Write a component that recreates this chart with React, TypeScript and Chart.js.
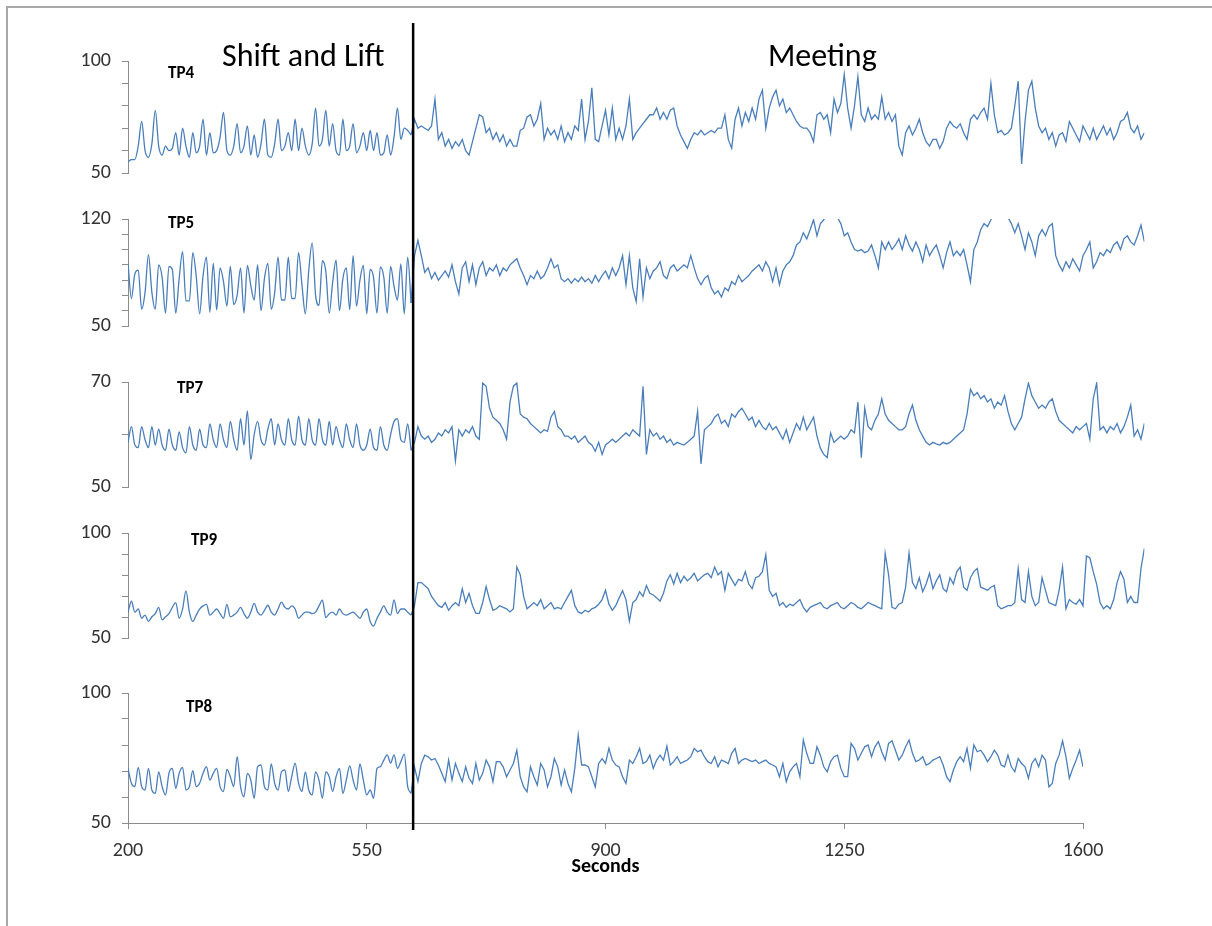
import React, { useEffect, useRef } from "react";
import { Chart, registerables } from "chart.js";

Chart.register(...registerables);

// ---------------- data ----------------
const T_START = 200; // seconds of the first sample
const T_STEP = 5; // seconds between samples
const DIVIDER_SECONDS = 618;
const X_MIN = 200;
const X_MAX_AXIS = 1600;
const X_TICK_STEP = 350;
const X_TITLE = "Seconds";
const PHASE_LABELS = ["Shift and Lift", "Meeting"];
const SERIES_NAMES = ["TP4", "TP5", "TP7", "TP9", "TP8"];
const Y_MINS = [50, 50, 50, 50, 50];
const Y_MAXS = [100, 120, 70, 100, 100];
const Y_TICK_STEP = 10;

// TP4 (200 .. 615 s) and (620 .. 1690 s)
const TP4_SHIFT = [
  55, 56, 56, 62, 73, 60, 57, 63, 78, 62,
  58, 62, 60, 61, 68, 58, 70, 62, 57, 68,
  59, 62, 74, 58, 68, 59, 60, 66, 77, 60,
  58, 62, 72, 59, 62, 71, 58, 67, 57, 63,
  74, 58, 57, 63, 74, 60, 62, 68, 60, 74,
  60, 70, 62, 58, 63, 79, 62, 65, 78, 62,
  72, 60, 58, 74, 60, 62, 72, 59, 62, 68,
  60, 69, 60, 68, 58, 59, 67, 58, 66, 79,
  65, 70, 69, 67,
];
const TP4_MEETING = [
  74, 70, 71, 70, 69, 71, 83, 65, 68, 62,
  65, 61, 64, 62, 65, 60, 58, 64, 70, 76,
  75, 68, 70, 65, 68, 64, 67, 62, 65, 62,
  62, 69, 70, 75, 76, 71, 74, 81, 65, 70,
  67, 69, 65, 71, 64, 68, 65, 71, 69, 83,
  65, 73, 88, 65, 64, 71, 78, 67, 79, 65,
  70, 65, 71, 83, 65, 68, 70, 72, 74, 76,
  76, 79, 74, 77, 74, 78, 79, 71, 67, 64,
  61, 65, 68, 67, 69, 67, 68, 69, 68, 70,
  70, 76, 65, 61, 74, 79, 71, 77, 73, 79,
  74, 83, 87, 70, 79, 84, 87, 80, 83, 77,
  79, 76, 73, 71, 70, 70, 68, 64, 76, 77,
  74, 76, 68, 83, 77, 81, 94, 79, 70, 80,
  93, 76, 73, 79, 74, 76, 74, 84, 74, 77,
  73, 76, 62, 58, 68, 71, 67, 70, 74, 68,
  64, 62, 65, 65, 61, 64, 70, 73, 71, 70,
  72, 68, 65, 74, 76, 74, 77, 79, 74, 90,
  76, 68, 69, 67, 68, 70, 80, 91, 54, 73,
  87, 91, 79, 71, 68, 70, 65, 68, 62, 67,
  68, 64, 73, 70, 67, 64, 71, 68, 65, 70,
  65, 68, 71, 67, 70, 65, 68, 73, 74, 77,
  70, 68, 71, 65, 68,
];

// TP5
const TP5_SHIFT = [
  91, 68, 84, 86.5, 61, 72, 96.7, 72, 61, 90,
  82, 58.4, 89, 87, 58.4, 81, 98.7, 66.4, 66.4, 98,
  82.7, 58, 82.7, 95, 59, 91, 60.5, 88, 79, 63,
  89, 64, 70, 88, 58.5, 89.6, 76.5, 67, 90, 60,
  81, 91, 61, 71.7, 95, 67, 67, 95, 68, 68,
  98, 77, 58, 86.5, 104.4, 70, 63.5, 92.7, 85.7, 58.4,
  78.5, 93, 60, 81, 88, 60.7, 96, 63, 80, 89.6,
  58, 87, 81.7, 58.4, 88.7, 82, 58.4, 89, 76, 67,
  90.6, 58, 95, 65,
];
const TP5_MEETING = [
  96, 106, 96, 85, 88, 81, 85, 80, 83, 86,
  82, 90, 79, 71, 88, 92, 79, 90, 77, 88,
  92, 83, 88, 86, 90, 83, 88, 86, 90, 92,
  94, 88, 83, 77, 83, 81, 86, 81, 83, 88,
  94, 88, 90, 81, 79, 81, 78, 81, 79, 82,
  79, 81, 78, 83, 79, 83, 86, 81, 88, 83,
  88, 96, 77, 96, 75, 66, 94, 69, 88, 81,
  86, 88, 92, 83, 81, 88, 90, 86, 88, 90,
  88, 96, 88, 81, 77, 81, 83, 75, 71, 73,
  69, 75, 73, 79, 77, 83, 79, 81, 83, 86,
  88, 90, 86, 92, 88, 79, 88, 77, 86, 90,
  92, 96, 103, 105, 111, 107, 113, 119.5, 109, 117,
  119.5, 124, 126, 124, 121, 117, 109, 111, 105, 100,
  99, 100, 98, 99, 103, 96, 88, 105, 100, 105,
  100, 103, 107, 100, 109, 103, 99, 105, 100, 92,
  103, 96, 100, 103, 96, 88, 98, 105, 96, 99,
  96, 100, 90, 79, 100, 105, 113, 117, 115, 119.5,
  124, 125, 122, 124, 121, 117, 111, 117, 109, 100,
  111, 105, 96, 109, 113, 109, 115, 117, 96, 90,
  86, 92, 88, 94, 90, 86, 96, 100, 105, 88,
  92, 98, 96, 100, 98, 103, 105, 100, 107, 109,
  105, 103, 109, 116, 105,
];

// TP7
const TP7_SHIFT = [
  58.5, 61.5, 58, 57.5, 61.5, 59, 57.5, 61.5, 58, 61,
  58, 57, 61, 58, 57, 60.5, 57.5, 56.5, 61.5, 58,
  57, 61, 58, 57.5, 62, 59, 57.5, 62, 59, 57.5,
  62.5, 59, 57, 63, 58, 64.5, 55.2, 60, 62.5, 59,
  58, 61, 63, 58, 62, 59, 58, 63, 59, 58,
  63.5, 59, 58, 63, 59, 58, 63, 59, 58, 62.5,
  58, 61.5, 59, 57.5, 62, 59, 57.5, 62, 58, 57,
  58, 61, 57.5, 57, 61.5, 58, 57, 60, 62.5, 63,
  59, 58.5, 62, 57,
];
const TP7_MEETING = [
  58.5, 61.5, 59.7, 59.1, 59.7, 58.5, 59.1, 60.3, 59.7, 60.9,
  60.3, 61.5, 55, 60.9, 59.7, 60.9, 60.3, 61.5, 59.7, 59.1,
  69.8, 69.2, 65, 63.3, 62.7, 62.1, 60.9, 59.1, 66.2, 69.2,
  69.8, 63.9, 63.3, 63, 62.1, 61.5, 60.9, 60.3, 60.9, 60.6,
  63.3, 64.4, 61.5, 60.9, 59.7, 59.7, 59.1, 59.7, 58.5, 59.1,
  59.7, 58.5, 58, 56.8, 58.5, 56.2, 58, 58.5, 59.1, 58.5,
  59.1, 59.7, 60.3, 59.7, 60.9, 60.3, 59.7, 69.2, 56.2, 60.9,
  59.7, 60.3, 59.1, 59.7, 58.5, 59.1, 58, 58.5, 58.2, 58,
  58.5, 59.1, 59.7, 64.4, 54.4, 60.9, 61.5, 62.1, 63.3, 63.9,
  62.1, 62.7, 61.5, 63.9, 63.3, 64.4, 65, 63.9, 62.7, 63.3,
  61.5, 62.7, 61.5, 60.9, 62.1, 60.9, 61.5, 60.3, 59.1, 60.9,
  58.5, 60.3, 62.1, 60.9, 63.3, 60.9, 62.1, 63.3, 59.7, 57.4,
  56.2, 55.6, 60.3, 58.5, 59.1, 59.7, 59.1, 59.7, 60.9, 60.3,
  66.2, 55.6, 65, 61.5, 60.9, 62.7, 63.9, 66.8, 63.9, 62.7,
  62.1, 61.5, 60.9, 60.9, 61.5, 63.9, 65.6, 62.7, 60.9, 59.7,
  58.5, 58, 58.5, 58.2, 58, 58.5, 58.2, 58.5, 59.1, 59.7,
  60.3, 60.9, 63.9, 68.6, 67.4, 68, 66.8, 67.4, 66.2, 66.8,
  65, 66.2, 65.6, 67.4, 64.4, 62.1, 60.9, 62.1, 63.3, 66.8,
  69.8, 67.4, 66.2, 65, 65.6, 65, 66.2, 66.8, 64.4, 62.7,
  62.1, 61.5, 60.9, 60.3, 61.5, 60.9, 61.5, 62.1, 59.1, 66.8,
  69.8, 60.9, 61.5, 60.3, 61.5, 60.9, 62.1, 60.3, 61.5, 63.3,
  65.6, 59.7, 60.9, 59.1, 62.1,
];

// TP9
const TP9_SHIFT = [
  62.3, 67.5, 62.3, 63.8, 59.4, 60.9, 57.9, 60.1, 61.6, 64.6,
  58.7, 60.1, 61.6, 64.6, 66.8, 59.4, 63.8, 72.4, 62.3, 57.9,
  60.9, 63.8, 65.3, 66, 60.9, 62.3, 63.8, 61.6, 59.4, 66,
  60.1, 60.9, 62.3, 64.6, 61.6, 59.4, 62.3, 66.5, 62.3, 60.9,
  63.1, 65.6, 62.3, 60.9, 63.8, 67.1, 64.6, 63.8, 65.3, 63.8,
  59.4, 60.9, 62.3, 62.3, 61.6, 62.3, 65.3, 68, 59.7, 61.6,
  62.3, 60.9, 63.8, 61.6, 60.9, 61.6, 62.3, 60.9, 59.4, 62.3,
  63.8, 57.9, 55.7, 59.4, 62.3, 65.3, 62.3, 60.9, 68.2, 61.6,
  63.8, 63.8, 62.3, 60.9,
];
const TP9_MEETING = [
  65.4, 76.4, 76.4, 75, 73.5, 69.8, 67.6, 65.4, 64.6, 66.9,
  63.2, 65.4, 66.9, 65.4, 73.5, 66.9, 71.3, 65.4, 61.7, 61.7,
  66.9, 74.5, 68.3, 63.2, 63.9, 65.4, 64.6, 63.9, 62.4, 63.9,
  83.8, 80.1, 69.8, 63.9, 65.4, 66.9, 65.4, 68.3, 63.9, 65.4,
  66.9, 63.9, 64.6, 63.9, 66.9, 69.8, 72.7, 65.4, 62.4, 61.7,
  63.2, 62.4, 63.9, 64.6, 66.1, 68.3, 72.7, 66.1, 63.2, 65.4,
  69.1, 72.5, 68.3, 58, 66.9, 68.3, 72, 69.8, 75, 71.3,
  70.5, 69.1, 67.6, 71.3, 77.2, 80.1, 75.7, 80.8, 76.4, 79.4,
  77.2, 78.7, 80.8, 77.2, 78.7, 80.1, 80.8, 78.7, 83.8, 80.1,
  81.6, 72.7, 80.8, 77.9, 75, 77.9, 77.2, 81.6, 75.7, 73.5,
  78.7, 79.4, 81.6, 89.7, 72.7, 69.8, 71.3, 65.4, 66.9, 64.6,
  66.1, 65.4, 66.9, 68.3, 64.6, 62.4, 64.6, 65.4, 66.1, 66.9,
  64.6, 63.9, 65.4, 66.1, 66.9, 64.6, 63.9, 65.4, 66.9, 66.1,
  64.6, 63.9, 65.4, 66.9, 66.1, 65.4, 64.6, 63.9, 90.4, 80.1,
  64.6, 63.9, 66.1, 66.9, 74.2, 90.4, 76.4, 73.5, 78.7, 72,
  75.7, 80.8, 73.5, 77.2, 80.1, 73.5, 72, 78.7, 75.7, 81.6,
  83.8, 74.2, 72.7, 78.7, 81.6, 83.1, 74.2, 73.5, 72.7, 74.2,
  75, 65.4, 63.9, 64.6, 65.4, 65.4, 66.9, 83.1, 68.3, 66.9,
  81.6, 69.8, 65.4, 66.9, 78.7, 72.7, 66.9, 66.1, 65.4, 72.7,
  83.8, 63.9, 68.3, 66.9, 66.1, 68.3, 65.4, 89, 88.2, 81.6,
  75.7, 66.9, 63.9, 65.4, 63.9, 68.3, 76.4, 81.6, 78, 66.9,
  69.8, 66.9, 66.9, 83.1, 92.7,
];

// TP8 (ends at 1600 s)
const TP8_SHIFT = [
  71, 65.3, 64, 71.4, 64, 62.7, 71, 62.7, 61.4, 69.7,
  64, 60.8, 69.1, 71, 63.3, 69.1, 71.4, 62.7, 64, 70.1,
  64, 65.3, 69.1, 71.7, 66.5, 69.1, 71, 64, 62.1, 70.6,
  67.8, 64, 75.5, 64, 60.1, 69.1, 66.5, 59.5, 71.7, 72.3,
  64, 62.7, 72.7, 65.3, 62.7, 69.7, 70.4, 62.1, 67.8, 73,
  65.3, 62.1, 69.7, 62.7, 60.8, 69.7, 66.5, 59.5, 69.7, 67.8,
  62.1, 67.8, 71, 61.4, 66.5, 72, 66.5, 62.7, 72.7, 66.5,
  60.8, 62.7, 59.5, 71, 71.7, 74.2, 76.2, 73, 76.2, 71,
  73.6, 76.5, 64, 61.4,
];
const TP8_MEETING = [
  71.6, 65.9, 72.9, 76.1, 75.5, 74.2, 74.8, 72.3, 69.1, 65.9,
  74.2, 66.5, 72.9, 69.1, 65.9, 71.6, 67.2, 65.2, 72.9, 66.5,
  69.1, 74.2, 71.6, 65.9, 73.6, 73.6, 71.6, 67.8, 70.4, 72.9,
  78, 67.8, 63.9, 62, 71.6, 67.8, 64.6, 72.9, 70.4, 63.9,
  67.8, 74.8, 71.6, 64.6, 70.4, 65.2, 62, 71, 83.8, 72.3,
  72.3, 71.6, 67.8, 63.9, 72.9, 74.8, 72.9, 78.7, 74.2, 72.3,
  71.6, 67.8, 65.2, 74.2, 72.9, 75.5, 78.7, 72.9, 73.6, 76.1,
  71, 74.2, 76.1, 74.2, 79.6, 72.3, 73.6, 75.5, 72.9, 73.6,
  74.2, 75.5, 78.7, 77.4, 78, 75.5, 73.6, 72.9, 75.5, 71.6,
  74.2, 73.6, 72.9, 76.8, 78.7, 72.9, 74.2, 74.8, 74.2, 73.6,
  74.2, 72.9, 73.6, 74.2, 72.9, 72.3, 71.6, 67.8, 72.9, 65.9,
  69.7, 71.6, 72.9, 67.8, 81.9, 76.8, 72.9, 72.9, 79.3, 76.1,
  71.6, 69.7, 73.6, 75.5, 76.1, 71, 67.8, 67.8, 80.6, 78.7,
  74.2, 76.8, 79.3, 80, 75.5, 79.3, 81.3, 77.4, 74.2, 80.6,
  81.6, 78, 74.2, 76.1, 79.3, 81.9, 76.8, 73.6, 74.2, 75.5,
  72.3, 72.9, 74.2, 74.8, 75.5, 72.3, 67.8, 65.9, 70.4, 73.6,
  75.5, 73.6, 78.7, 71, 80, 77.4, 78, 76.1, 73.6, 75.5,
  78, 76.1, 72.3, 71.6, 76.1, 71.6, 69.7, 74.8, 72.9, 71.6,
  67.2, 72.9, 74.8, 71.6, 76.1, 74.2, 63.9, 65.2, 72.9, 76.1,
  81.6, 75.5, 67.2, 71, 74.2, 78, 71.6,
];

const SERIES_SHIFT = [TP4_SHIFT, TP5_SHIFT, TP7_SHIFT, TP9_SHIFT, TP8_SHIFT];
const SERIES_MEETING = [TP4_MEETING, TP5_MEETING, TP7_MEETING, TP9_MEETING, TP8_MEETING];

// ---------------- layout / style ----------------
const PAGE_W = 1212;
const PAGE_H = 926;
const AREA_LEFT = 128;
const AREA_RIGHT_AT_AXIS_MAX = 1083;
const PX_PER_SEC = (AREA_RIGHT_AT_AXIS_MAX - AREA_LEFT) / (X_MAX_AXIS - X_MIN);
const X_AXIS_HEIGHT = 56;
const DIVIDER_TOP = 23;
const DIVIDER_BOTTOM = 830;
const LINE_COLOR = "#4a7ebb";
const AXIS_COLOR = "#8c8c8c";
const TICK_COLOR = "#333333";
const FONT = "Carlito, Lato, 'Open Sans', sans-serif";

type Box = { top: number; bottom: number; areaTop: number; areaBottom: number; labelLeft: number; labelTop: number };
const BOXES: Box[] = [
  { top: 18, bottom: 196, areaTop: 61, areaBottom: 175, labelLeft: 168, labelTop: 64 },
  { top: 196, bottom: 354, areaTop: 216, areaBottom: 326, labelLeft: 168, labelTop: 214 },
  { top: 354, bottom: 510, areaTop: 382, areaBottom: 495, labelLeft: 177, labelTop: 379 },
  { top: 510, bottom: 665, areaTop: 525, areaBottom: 638, labelLeft: 191, labelTop: 531 },
  { top: 665, bottom: 880, areaTop: 693, areaBottom: 823, labelLeft: 186, labelTop: 698 },
];

function Panel({ index }: { index: number }) {
  const ref = useRef<HTMLCanvasElement | null>(null);
  const box = BOXES[index];
  const height = box.bottom - box.top;
  const showX = index === BOXES.length - 1;

  useEffect(() => {
    const canvas = ref.current;
    if (!canvas) return;
    const shift = SERIES_SHIFT[index];
    const meeting = SERIES_MEETING[index];
    const values = [...shift, ...meeting];
    const points = values.map((v, i) => ({ x: T_START + i * T_STEP, y: v }));
    const shiftPoints = points.slice(0, shift.length);
    const meetingPoints = points.slice(shift.length - 1);
    const yMin = Y_MINS[index];
    const yMax = Y_MAXS[index];
    const xMax = showX ? X_MAX_AXIS : points[points.length - 1].x;
    const areaRight = AREA_LEFT + (xMax - X_MIN) * PX_PER_SEC;
    const padBottom = showX
      ? box.bottom - box.areaBottom - X_AXIS_HEIGHT
      : box.bottom - box.areaBottom;

    const divider = {
      id: "divider",
      afterDatasetsDraw(chart: any) {
        const x = chart.scales.x.getPixelForValue(DIVIDER_SECONDS);
        const y0 = Math.max(0, DIVIDER_TOP - box.top);
        const y1 = Math.min(height, DIVIDER_BOTTOM - box.top);
        const ctx = chart.ctx;
        ctx.save();
        ctx.strokeStyle = "#000000";
        ctx.lineWidth = 2.5;
        ctx.beginPath();
        ctx.moveTo(x, y0);
        ctx.lineTo(x, y1);
        ctx.stroke();
        ctx.restore();
      },
    };

    const xScale: any = {
      type: "linear",
      display: showX,
      min: X_MIN,
      max: xMax,
      border: { display: true, color: AXIS_COLOR, width: 1 },
      grid: { drawOnChartArea: false, drawTicks: true, tickLength: 6, color: AXIS_COLOR },
      ticks: {
        stepSize: X_TICK_STEP,
        autoSkip: false,
        maxRotation: 0,
        padding: 10,
        color: TICK_COLOR,
        font: { family: FONT, size: 20 },
        callback: (v: any) => String(v),
      },
      title: {
        display: true,
        text: X_TITLE,
        color: "#000000",
        padding: 0,
        font: { family: FONT, size: 20, weight: "bold" },
      },
    };
    if (showX) {
      xScale.afterFit = (s: any) => {
        s.height = X_AXIS_HEIGHT;
      };
    }

    const chart = new Chart(canvas, {
      type: "line",
      data: {
        datasets: [
          {
            label: SERIES_NAMES[index] + " " + PHASE_LABELS[0],
            data: shiftPoints,
            borderColor: LINE_COLOR,
            borderWidth: 1.3,
            pointRadius: 0,
            cubicInterpolationMode: "monotone",
            fill: false,
          },
          {
            label: SERIES_NAMES[index] + " " + PHASE_LABELS[1],
            data: meetingPoints,
            borderColor: LINE_COLOR,
            borderWidth: 1.3,
            pointRadius: 0,
            tension: 0,
            fill: false,
          },
        ],
      },
      options: {
        responsive: false,
        animation: false,
        devicePixelRatio: 1,
        events: [],
        layout: {
          padding: {
            left: 0,
            right: PAGE_W - areaRight,
            top: box.areaTop - box.top,
            bottom: padBottom,
          },
        },
        plugins: {
          legend: { display: false },
          tooltip: { enabled: false },
          title: { display: false },
        },
        scales: {
          x: xScale,
          y: {
            type: "linear",
            min: yMin,
            max: yMax,
            afterFit: (s: any) => {
              s.width = AREA_LEFT;
            },
            border: { display: true, color: AXIS_COLOR, width: 1 },
            grid: { drawOnChartArea: false, drawTicks: true, tickLength: 6, color: AXIS_COLOR },
            ticks: {
              stepSize: Y_TICK_STEP,
              autoSkip: false,
              padding: 11,
              color: TICK_COLOR,
              font: { family: FONT, size: 20 },
              callback: (v: any) => (v === yMin || v === yMax ? String(v) : ""),
            },
          },
        },
      } as any,
      plugins: [divider],
    });
    return () => chart.destroy();
  }, [index]);

  return (
    <canvas
      ref={ref}
      width={PAGE_W}
      height={height}
      style={{ position: "absolute", left: 0, top: box.top, width: PAGE_W, height, display: "block" }}
    />
  );
}

export default function App() {
  return (
    <div
      style={{
        position: "absolute",
        left: 0,
        top: 0,
        width: PAGE_W,
        height: PAGE_H,
        background: "#ffffff",
        overflow: "hidden",
        fontFamily: FONT,
      }}
    >
      <div style={{ position: "absolute", left: 7, top: 6, width: PAGE_W - 7, height: 2, background: "#a8a8a8" }} />
      <div style={{ position: "absolute", left: 6, top: 6, width: 2, height: PAGE_H - 6, background: "#a8a8a8" }} />
      {BOXES.map((_, i) => (
        <Panel key={i} index={i} />
      ))}
      {BOXES.map((b, i) => (
        <div
          key={"lbl" + i}
          style={{
            position: "absolute",
            left: b.labelLeft,
            top: b.labelTop,
            fontSize: 17,
            lineHeight: 1,
            fontWeight: 700,
            color: "#000",
            whiteSpace: "nowrap",
          }}
        >
          {SERIES_NAMES[i]}
        </div>
      ))}
      <div style={{ position: "absolute", left: 222, top: 40, fontSize: 32, lineHeight: 1, color: "#000", whiteSpace: "nowrap" }}>
        {PHASE_LABELS[0]}
      </div>
      <div style={{ position: "absolute", left: 768, top: 40, fontSize: 32, lineHeight: 1, color: "#000", whiteSpace: "nowrap" }}>
        {PHASE_LABELS[1]}
      </div>
    </div>
  );
}
